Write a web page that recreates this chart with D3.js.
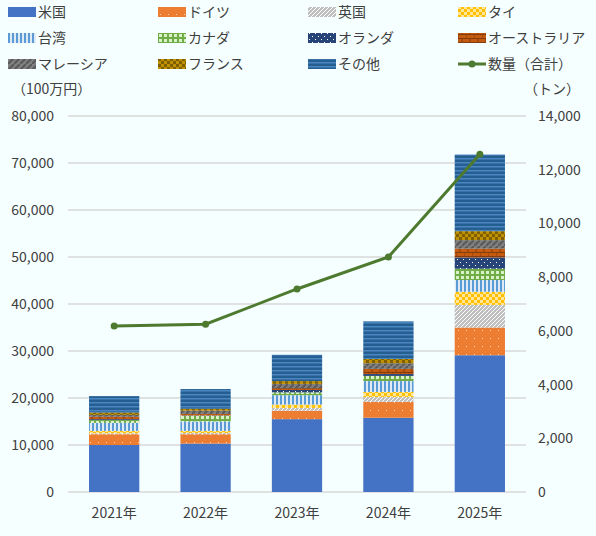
<!DOCTYPE html>
<html><head><meta charset="utf-8">
<script src="https://cdn.jsdelivr.net/npm/d3@7"></script>
<style>body{margin:0;background:#f5ffff;font-family:"Noto Sans CJK JP","Noto Sans",sans-serif;}</style>
</head><body><div id="chart"></div>
<script>
const years = ["2021年", "2022年", "2023年", "2024年", "2025年"];
const seriesNames = ["米国", "ドイツ", "英国", "タイ", "台湾", "カナダ", "オランダ", "オーストラリア", "マレーシア", "フランス", "その他"];
// values in 100万円
const usa = [10000, 10300, 15500, 15800, 29100];
const germany = [2300, 2000, 1800, 3400, 5900];
const uk = [200, 250, 600, 1000, 4800];
const thailand = [500, 450, 700, 1100, 2800];
const taiwan = [1700, 2000, 2000, 2300, 2500];
const canada = [600, 1200, 600, 1100, 2400];
const netherlands = [200, 100, 500, 400, 2400];
const australia = [500, 300, 400, 1100, 1900];
const malaysia = [400, 700, 900, 1200, 1800];
const france = [500, 400, 600, 900, 1900];
const others = [3500, 4200, 5600, 8000, 16300];
const volume = [6180, 6250, 7560, 8750, 12580]; // トン
const leftTicks = [0, 10000, 20000, 30000, 40000, 50000, 60000, 70000, 80000];
const rightTicks = [0, 2000, 4000, 6000, 8000, 10000, 12000, 14000];

const seriesValues = [usa, germany, uk, thailand, taiwan, canada, netherlands, australia, malaysia, france, others];
const W = 596, H = 536;
const svg = d3.select("#chart").append("svg").attr("width", W).attr("height", H);
const defs = svg.append("defs");

function pat(id, bg, draw, s) {
  const p = defs.append("pattern").attr("id", id).attr("patternUnits", "userSpaceOnUse").attr("width", s).attr("height", s);
  p.append("rect").attr("width", s).attr("height", s).attr("fill", bg);
  draw(p);
}
pat("p0", "#4472c4", () => {}, 4);
pat("p1", "#ed7d31", p => p.append("rect").attr("x", 2).attr("y", 2).attr("width", 1).attr("height", 1).attr("fill", "#ffd9bf"), 8);
pat("p2", "#bfbfbf", p => p.append("path").attr("d", "M0,4 L4,0 M-1,1 L1,-1 M3,5 L5,3").attr("stroke", "#fff").attr("stroke-width", 1), 4);
pat("p3", "#ffc000", p => { p.append("rect").attr("width", 3).attr("height", 3).attr("fill", "#ffe699"); p.append("rect").attr("x", 3).attr("y", 3).attr("width", 3).attr("height", 3).attr("fill", "#ffe699"); }, 6);
pat("p4", "#5b9bd5", p => p.append("rect").attr("x", 2).attr("width", 2).attr("height", 4).attr("fill", "#deebf7"), 4);
pat("p5", "#70ad47", p => p.append("rect").attr("x", 1).attr("y", 1).attr("width", 3).attr("height", 3).attr("fill", "#d9f0c8"), 5);
pat("p6", "#264478", p => { p.append("rect").attr("x", 1).attr("y", 1).attr("width", 1).attr("height", 1).attr("fill", "#fff"); p.append("rect").attr("x", 4).attr("y", 4).attr("width", 1).attr("height", 1).attr("fill", "#fff"); }, 6);
pat("p7", "#c55a11", p => p.append("path").attr("d", "M0,0.5H8M0,4.5H8M4,0V4M0,4V8").attr("stroke", "#843c0c").attr("stroke-width", 1), 8);
pat("p8", "#7f7f7f", p => p.append("path").attr("d", "M0,6 L6,0").attr("stroke", "#595959").attr("stroke-width", 2), 6);
pat("p9", "#bf9000", p => { p.append("rect").attr("width", 3).attr("height", 3).attr("fill", "#7f6000"); p.append("rect").attr("x", 3).attr("y", 3).attr("width", 3).attr("height", 3).attr("fill", "#7f6000"); }, 6);
pat("p10", "#255e91", p => p.append("rect").attr("y", 2).attr("width", 4).attr("height", 1.5).attr("fill", "#4a86c0"), 4);

const M = { left: 68, right: 70, top: 116, bottom: 44 };
const x = d3.scaleBand().domain(years).range([M.left, W - M.right]).paddingInner(0.45).paddingOuter(0.23);
const y = d3.scaleLinear().domain([0, 80000]).range([H - M.bottom, M.top]);
const y2 = d3.scaleLinear().domain([0, 14000]).range([H - M.bottom, M.top]);

svg.append("g").selectAll("line").data(leftTicks).join("line")
  .attr("x1", M.left).attr("x2", W - M.right).attr("y1", d => y(d)).attr("y2", d => y(d))
  .attr("stroke", "#d9d9d9").attr("stroke-width", 1.5);

const axL = svg.append("g").attr("transform", `translate(${M.left},0)`)
  .call(d3.axisLeft(y).tickValues(leftTicks).tickFormat(d3.format(",")).tickSize(0).tickPadding(14));
const axR = svg.append("g").attr("transform", `translate(${W - M.right},0)`)
  .call(d3.axisRight(y2).tickValues(rightTicks).tickFormat(d3.format(",")).tickSize(0).tickPadding(12));
const axB = svg.append("g").attr("transform", `translate(0,${H - M.bottom})`)
  .call(d3.axisBottom(x).tickSize(0).tickPadding(16));
[axL, axR, axB].forEach(a => { a.select(".domain").remove(); a.selectAll("text").attr("font-size", 14).attr("fill", "#404040").attr("font-family", "'Noto Sans CJK JP',sans-serif"); });

const table = years.map((yr, i) => { const o = { year: yr }; seriesNames.forEach((s, j) => o[s] = seriesValues[j][i]); return o; });
const stacked = d3.stack().keys(seriesNames)(table);
svg.append("g").selectAll("g").data(stacked).join("g")
  .attr("fill", (d, i) => `url(#p${i})`)
  .selectAll("rect").data(d => d).join("rect")
  .attr("x", d => x(d.data.year)).attr("width", x.bandwidth())
  .attr("y", d => y(d[1])).attr("height", d => y(d[0]) - y(d[1]));

const line = d3.line().x((d, i) => x(years[i]) + x.bandwidth() / 2).y(d => y2(d));
svg.append("path").datum(volume).attr("d", line).attr("fill", "none").attr("stroke", "#4e7a2f").attr("stroke-width", 3);
svg.append("g").selectAll("circle").data(volume).join("circle")
  .attr("cx", (d, i) => x(years[i]) + x.bandwidth() / 2).attr("cy", d => y2(d)).attr("r", 3.5).attr("fill", "#4e7a2f");

svg.append("text").attr("x", 12).attr("y", 94).attr("font-size", 14).attr("fill", "#404040").text("（100万円）");
svg.append("text").attr("x", 524).attr("y", 94).attr("font-size", 14).attr("fill", "#404040").text("（トン）");

const legendItems = seriesNames.concat(["数量（合計）"]);
const lg = svg.append("g").selectAll("g").data(legendItems).join("g")
  .attr("transform", (d, i) => `translate(${8 + (i % 4) * 150},${12 + Math.floor(i / 4) * 26})`);
lg.each(function (d, i) {
  const g = d3.select(this);
  if (i < 11) g.append("rect").attr("y", -5).attr("width", 28).attr("height", 10).attr("fill", `url(#p${i})`);
  else {
    g.append("line").attr("x1", 0).attr("x2", 28).attr("stroke", "#4e7a2f").attr("stroke-width", 3);
    g.append("circle").attr("cx", 14).attr("r", 3.5).attr("fill", "#4e7a2f");
  }
  g.append("text").attr("x", 30).attr("y", 5).attr("font-size", 14).attr("fill", "#404040").text(d);
});
</script></body></html>
